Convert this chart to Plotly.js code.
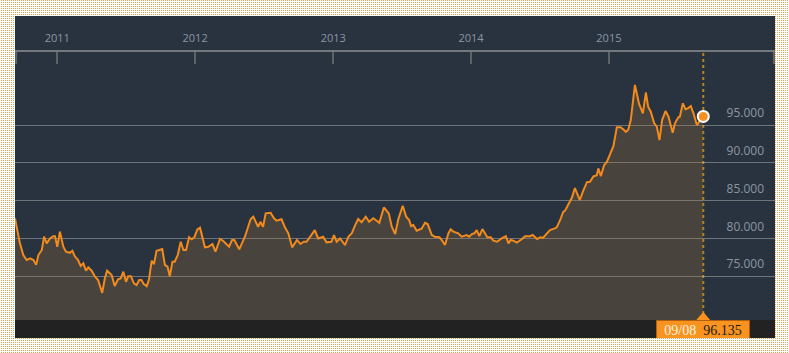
<!DOCTYPE html>
<html>
<head>
<meta charset="utf-8">
<script src="https://cdn.plot.ly/plotly-3.0.1.min.js"></script>
<style>
  html, body { margin: 0; padding: 0; }
  body {
    width: 789px; height: 353px; overflow: hidden; position: relative;
    background-color: #ffffff;
    background-image: conic-gradient(#f39c4e 0 25%, #ffffff 0 100%);
    background-size: 2px 2px;
  }
  #chart { position: absolute; left: 15px; top: 16px; width: 760px; height: 322px; }
</style>
</head>
<body>
<div id="chart"></div>
<script>
const dates = [
  '2010-09-11','2010-09-17','2010-09-24','2010-10-03','2010-10-12','2010-10-21','2010-10-30','2010-11-06','2010-11-12','2010-11-21',
  '2010-11-27','2010-12-04','2010-12-13','2010-12-21','2010-12-26','2011-01-01','2011-01-08','2011-01-17','2011-01-24','2011-02-03',
  '2011-02-10','2011-02-16','2011-02-25','2011-03-04','2011-03-11','2011-03-18','2011-03-24','2011-04-02','2011-04-11','2011-04-19',
  '2011-04-24','2011-04-30','2011-05-07','2011-05-13','2011-05-25','2011-06-02','2011-06-11','2011-06-18','2011-06-25','2011-07-02',
  '2011-07-08','2011-07-15','2011-07-23','2011-07-30','2011-08-06','2011-08-12','2011-08-18','2011-08-26','2011-09-01','2011-09-08',
  '2011-09-14','2011-09-21','2011-09-28','2011-10-06','2011-10-13','2011-10-20','2011-10-26','2011-11-02','2011-11-08','2011-11-16',
  '2011-11-24','2011-12-01','2011-12-08','2011-12-16','2011-12-23','2011-12-30','2012-01-07','2012-01-14','2012-01-27','2012-02-05',
  '2012-02-16','2012-02-24','2012-03-07','2012-03-15','2012-03-31','2012-04-08','2012-04-14','2012-04-27','2012-05-12','2012-05-27',
  '2012-06-03','2012-06-16','2012-06-22','2012-06-29','2012-07-06','2012-07-19','2012-07-28','2012-08-04','2012-08-17','2012-08-26',
  '2012-09-04','2012-09-14','2012-09-27','2012-10-06','2012-10-15','2012-10-22','2012-11-02','2012-11-13','2012-11-22','2012-12-05',
  '2012-12-14','2012-12-27','2013-01-03','2013-01-10','2013-01-19','2013-02-01','2013-02-10','2013-02-19','2013-02-28','2013-03-08',
  '2013-03-17','2013-03-28','2013-04-06','2013-04-17','2013-05-03','2013-05-15','2013-05-28','2013-06-05','2013-06-14','2013-06-22',
  '2013-07-04','2013-07-13','2013-07-21','2013-07-26','2013-08-01','2013-08-10','2013-08-23','2013-09-01','2013-09-08','2013-09-19',
  '2013-09-27','2013-10-09','2013-10-15','2013-10-24','2013-11-02','2013-11-08','2013-11-15','2013-11-28','2013-12-07','2013-12-20',
  '2013-12-27','2014-01-03','2014-01-10','2014-01-16','2014-01-23','2014-01-31','2014-02-13','2014-02-22','2014-03-01','2014-03-11',
  '2014-03-23','2014-04-03','2014-04-10','2014-04-16','2014-04-23','2014-05-02','2014-05-15','2014-05-24','2014-06-06','2014-06-13',
  '2014-06-25','2014-07-03','2014-07-11','2014-07-20','2014-07-29','2014-08-11','2014-08-16','2014-08-25','2014-09-02','2014-09-07',
  '2014-09-18','2014-09-25','2014-10-03','2014-10-16','2014-10-25','2014-11-04','2014-11-12','2014-11-21','2014-11-30','2014-12-04',
  '2014-12-11','2014-12-19','2014-12-27','2015-01-05','2015-01-13','2015-01-22','2015-02-01','2015-02-08','2015-02-15','2015-02-21',
  '2015-02-28','2015-03-11','2015-03-22','2015-04-01','2015-04-09','2015-04-15','2015-04-22','2015-05-01','2015-05-08','2015-05-15',
  '2015-05-22','2015-05-31','2015-06-08','2015-06-19','2015-06-25','2015-07-04','2015-07-08','2015-07-16','2015-07-23','2015-07-29',
  '2015-08-06','2015-08-13','2015-08-22','2015-09-08'
];
const values = [
  82.66,81.30,79.35,77.80,77.14,77.36,77.14,76.50,77.80,78.47,
  80.23,79.35,80.00,80.30,80.30,78.90,80.90,78.90,78.24,78.10,
  78.37,77.67,77.14,76.35,76.70,75.73,76.17,75.73,74.93,74.50,
  73.84,72.80,74.72,75.73,75.16,73.70,74.60,74.72,75.60,74.27,
  75.00,75.00,74.06,73.84,74.50,74.50,73.97,73.70,74.60,77.05,
  76.60,78.37,78.47,78.60,76.50,76.26,75.00,76.92,76.92,77.80,
  79.56,78.47,78.47,80.15,79.88,80.15,81.20,81.42,78.82,78.90,
  79.26,78.24,79.92,79.70,78.90,79.80,79.80,78.56,80.23,82.53,
  82.88,81.55,82.20,81.55,83.32,83.40,82.66,82.34,82.53,81.47,
  80.68,78.82,79.80,79.26,79.56,79.56,80.30,81.10,80.00,80.23,
  79.48,79.56,80.45,79.56,80.00,79.13,80.23,80.68,81.77,82.57,
  82.13,82.88,82.20,82.66,82.07,84.10,83.32,81.55,80.58,82.50,
  84.33,82.88,82.44,81.64,81.77,81.02,81.28,82.07,81.90,80.45,
  80.23,80.15,79.80,79.13,80.68,81.20,80.90,80.68,80.23,80.45,
  80.23,80.58,80.68,81.10,80.30,81.24,80.15,80.15,79.70,79.56,
  80.00,80.30,79.35,79.80,79.70,79.44,79.88,80.30,80.30,80.45,
  79.92,80.15,80.10,80.58,81.10,81.33,81.47,82.44,83.50,83.67,
  84.60,85.38,86.65,85.08,86.30,87.45,87.50,88.20,88.35,89.27,
  88.25,89.65,90.15,91.35,92.20,94.70,94.70,94.43,94.10,94.34,
  95.66,100.30,97.80,96.55,99.30,97.42,96.76,95.22,94.78,93.00,
  95.66,96.85,96.10,93.98,95.22,96.02,96.10,97.87,97.08,97.20,
  97.50,96.55,95.00,96.135
];
const yearTickVals = ['2011-01-01','2012-01-01','2013-01-01','2014-01-01','2015-01-01'];
const yearTickText = ['2011','2012','2013','2014','2015'];
const valueTickVals = [75, 80, 85, 90, 95];
const valueTickText = ['75.000','80.000','85.000','90.000','95.000'];
const xRange = ['2010-09-11', '2016-03-16'];
const yRange = [69.21, 104.66];

const last = dates.length - 1;
const lastDate = dates[last];
const lastValue = values[last];
const dParts = lastDate.split('-');
const lastLabelDate = dParts[1] + '/' + dParts[2];
const lastLabelValue = lastValue.toFixed(3);

const ORANGE = '#f28a1c';
const traces = [
  {
    x: dates, y: values, type: 'scatter', mode: 'lines',
    line: { color: ORANGE, width: 2 },
    fill: 'tozeroy', fillcolor: 'rgba(173,115,55,0.25)',
    hoverinfo: 'skip', showlegend: false
  },
  {
    x: [lastDate], y: [lastValue], type: 'scatter', mode: 'markers',
    marker: { size: 11, color: '#f7901e', line: { color: '#ffffff', width: 2 } },
    hoverinfo: 'skip', showlegend: false, cliponaxis: false
  }
];

const gridCol = 'rgba(255,255,255,0.32)';
const layout = {
  width: 760, height: 322,
  margin: { l: 0, r: 0, t: 36, b: 18, pad: 0 },
  paper_bgcolor: '#29333f',
  plot_bgcolor: '#29333f',
  showlegend: false,
  font: { family: 'Open Sans, sans-serif', color: '#8b96a3' },
  xaxis: {
    type: 'date', range: xRange, side: 'top',
    tickvals: yearTickVals, ticktext: yearTickText,
    ticks: 'inside', ticklen: 12, tickwidth: 2, tickcolor: '#5e6368',
    showline: true, linecolor: '#74777b', linewidth: 2,
    showgrid: false, zeroline: false,
    tickfont: { family: 'Open Sans, sans-serif', size: 11, color: '#8b96a3' },
    ticklabelstandoff: 4,
    fixedrange: true
  },
  yaxis: {
    range: yRange, side: 'right',
    tickvals: valueTickVals, ticktext: valueTickText,
    ticks: '', showgrid: true, gridcolor: gridCol, gridwidth: 1,
    zeroline: false, showline: false,
    ticklabelposition: 'inside',
    ticklabelshift: -12, ticklabelstandoff: 8,
    tickfont: { family: 'Open Sans, sans-serif', size: 12, color: '#8b96a3' },
    fixedrange: true
  },
  shapes: [
    { type: 'rect', xref: 'paper', yref: 'paper', x0: 0, x1: 1, y0: -18/268, y1: 0,
      fillcolor: '#222222', line: { width: 0 }, layer: 'above' },
    { type: 'line', xref: 'x', yref: 'paper', x0: lastDate, x1: lastDate, y0: 0, y1: 1,
      line: { color: '#b8821f', width: 2, dash: 'dot' }, layer: 'below' },
    { type: 'line', xref: 'paper', yref: 'paper', ysizemode: 'pixel', yanchor: 1,
      x0: 0.0015, x1: 0.0015, y0: 0, y1: -12, line: { color: '#5e6368', width: 2 } },
    { type: 'line', xref: 'paper', yref: 'paper', ysizemode: 'pixel', yanchor: 1,
      x0: 0.9985, x1: 0.9985, y0: 0, y1: -12, line: { color: '#5e6368', width: 2 } },
    { type: 'path', xref: 'x', yref: 'paper', xsizemode: 'pixel', ysizemode: 'pixel',
      xanchor: lastDate, yanchor: 0, path: 'M-7,0 L7,0 L0,8 Z',
      fillcolor: '#f7931e', line: { width: 0 }, layer: 'above' }
  ],
  annotations: [
    { xref: 'x', yref: 'paper', x: lastDate, y: 0, yanchor: 'top', xanchor: 'center',
      showarrow: false, width: 92, height: 18, borderpad: 0,
      bgcolor: '#f7931e', bordercolor: '#b25e10', borderwidth: 1,
      font: { family: 'Liberation Serif, serif', size: 14, color: '#1a1a1a' },
      text: '<span style="color:#fff3e4">' + lastLabelDate + '</span>&nbsp;&nbsp;<span style="color:#1a1a1a">' + lastLabelValue + '</span>'
    }
  ]
};

Plotly.newPlot('chart', traces, layout, { staticPlot: true, displayModeBar: false });
</script>
</body>
</html>
